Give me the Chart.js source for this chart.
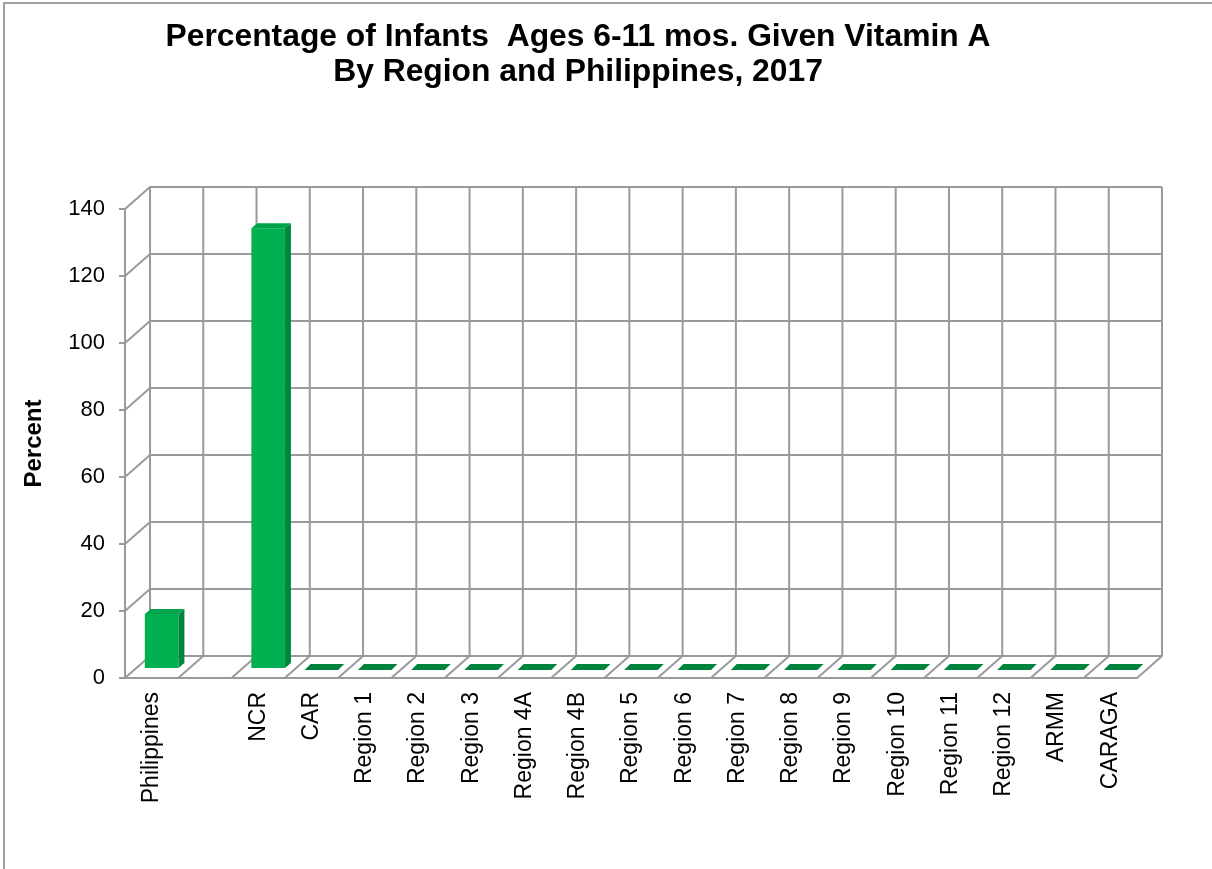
<!DOCTYPE html>
<html>
<head>
<meta charset="utf-8">
<script src="https://cdn.jsdelivr.net/npm/chart.js@4.4.1/dist/chart.umd.min.js"></script>
<style>
  html, body { margin: 0; padding: 0; background: #fff; }
  #wrap { width: 1212px; height: 869px; position: relative; }
</style>
</head>
<body>
<div id="wrap"><canvas id="vitaminChart"></canvas></div>
<script>
  const categories = [
    'Philippines', '', 'NCR', 'CAR',
    'Region 1', 'Region 2', 'Region 3', 'Region 4A', 'Region 4B',
    'Region 5', 'Region 6', 'Region 7', 'Region 8', 'Region 9',
    'Region 10', 'Region 11', 'Region 12', 'ARMM', 'CARAGA'
  ];
  const percentValues = [16.4, null, 131.6, 0, 0, 0, 0, 0, 0, 0, 0, 0, 0, 0, 0, 0, 0, 0, 0];
  const yTicks = [0, 20, 40, 60, 80, 100, 120, 140];
  const titleLines = [
    'Percentage of Infants  Ages 6-11 mos. Given Vitamin A',
    'By Region and Philippines, 2017'
  ];

  // depth of the pseudo-3D box and of the bars inside it
  const DX = 25, DY = -22;
  const SX = 10, SY = -9;
  const BX = 6, BY = -5;
  const gridColor = '#9a9a9a';

  Chart.defaults.font.family = "'Liberation Sans', Arial, sans-serif";
  Chart.defaults.color = '#000';

  const walls = {
    id: 'walls',
    beforeDraw(chart) {
      const ctx = chart.ctx;
      ctx.save();
      ctx.strokeStyle = '#a0a0a0';
      ctx.lineWidth = 2;
      ctx.strokeRect(4, 3, 1400, 1000);
      ctx.restore();
    },
    beforeDatasetsDraw(chart) {
      const {ctx, chartArea: a, scales: {x, y}} = chart;
      const n = categories.length;
      const step = x.getPixelForValue(1) - x.getPixelForValue(0);
      ctx.save();
      ctx.strokeStyle = gridColor;
      ctx.lineWidth = 2;
      ctx.beginPath();
      yTicks.forEach(v => {
        const py = y.getPixelForValue(v);
        ctx.moveTo(a.left, py);
        ctx.lineTo(a.left + DX, py + DY);
        ctx.lineTo(a.right + DX, py + DY);
      });
      for (let k = 0; k <= n; k++) {
        const bx = k === n ? a.right : x.getPixelForValue(k) - step / 2;
        ctx.moveTo(bx, a.bottom);
        ctx.lineTo(bx + DX, a.bottom + DY);
        ctx.lineTo(bx + DX, y.getPixelForValue(140) + DY);
      }
      ctx.stroke();
      ctx.restore();
    },
    afterDatasetsDraw(chart) {
      const ctx = chart.ctx;
      const meta = chart.getDatasetMeta(0);
      const poly = (pts, color) => {
        ctx.fillStyle = color;
        ctx.beginPath();
        ctx.moveTo(pts[0][0], pts[0][1]);
        pts.slice(1).forEach(p => ctx.lineTo(p[0], p[1]));
        ctx.closePath();
        ctx.fill();
      };
      ctx.save();
      meta.data.forEach((bar, i) => {
        if (percentValues[i] == null) return;
        const p = bar.getProps(['x', 'y', 'base', 'width'], true);
        const l = p.x - p.width / 2 + SX, r = p.x + p.width / 2 + SX;
        const t = p.y + SY, b = p.base + SY;
        if (b - t < 1) {
          poly([[l, b + 1], [r, b + 1], [r + BX, b + BY], [l + BX, b + BY]], '#00843d');
          return;
        }
        poly([[l, t], [r, t], [r, b], [l, b]], '#00b050');
        poly([[r, t], [r + BX, t + BY], [r + BX, b + BY], [r, b]], '#00853c');
        poly([[l, t], [r, t], [r + BX, t + BY], [l + BX, t + BY]], '#00a24a');
      });
      ctx.restore();
    },
    afterDraw(chart) {
      const ctx = chart.ctx;
      ctx.save();
      ctx.font = "bold 32px 'Liberation Sans', Arial, sans-serif";
      ctx.fillStyle = '#000';
      ctx.textAlign = 'center';
      ctx.textBaseline = 'alphabetic';
      const sx = 825 / ctx.measureText(titleLines[0]).width;
      ctx.translate(578, 0);
      ctx.scale(sx, 1);
      ctx.fillText(titleLines[0], 0, 46);
      ctx.fillText(titleLines[1], 0, 81);
      ctx.restore();
    }
  };

  new Chart(document.getElementById('vitaminChart'), {
    type: 'bar',
    data: {
      labels: categories,
      datasets: [{
        data: percentValues,
        backgroundColor: 'rgba(0,0,0,0)',
        borderWidth: 0,
        barPercentage: 0.63,
        categoryPercentage: 1
      }]
    },
    options: {
      responsive: true,
      maintainAspectRatio: false,
      animation: false,
      layout: { padding: { top: 209, right: 75, left: 0, bottom: 0 } },
      plugins: { legend: { display: false }, tooltip: { enabled: false }, title: { display: false } },
      scales: {
        x: {
          ticks: { minRotation: 90, maxRotation: 90, autoSkip: false, padding: 14, font: { size: 23 } },
          grid: { display: false, drawTicks: false },
          border: { display: true, color: gridColor, width: 2 },
          afterFit(s) { s.height = 869 - 678; }
        },
        y: {
          min: 0,
          max: 140,
          afterBuildTicks(s) { s.ticks = yTicks.map(v => ({ value: v })); },
          ticks: { padding: 14, font: { size: 22 } },
          grid: { drawOnChartArea: false, drawTicks: true, tickLength: 6, color: gridColor, lineWidth: 2 },
          border: { display: true, color: gridColor, width: 2 },
          title: { display: true, text: 'Percent', font: { size: 24, weight: 'bold' }, padding: { top: 20 } },
          afterFit(s) { s.width = 125; }
        }
      }
    },
    plugins: [walls]
  });
</script>
</body>
</html>
